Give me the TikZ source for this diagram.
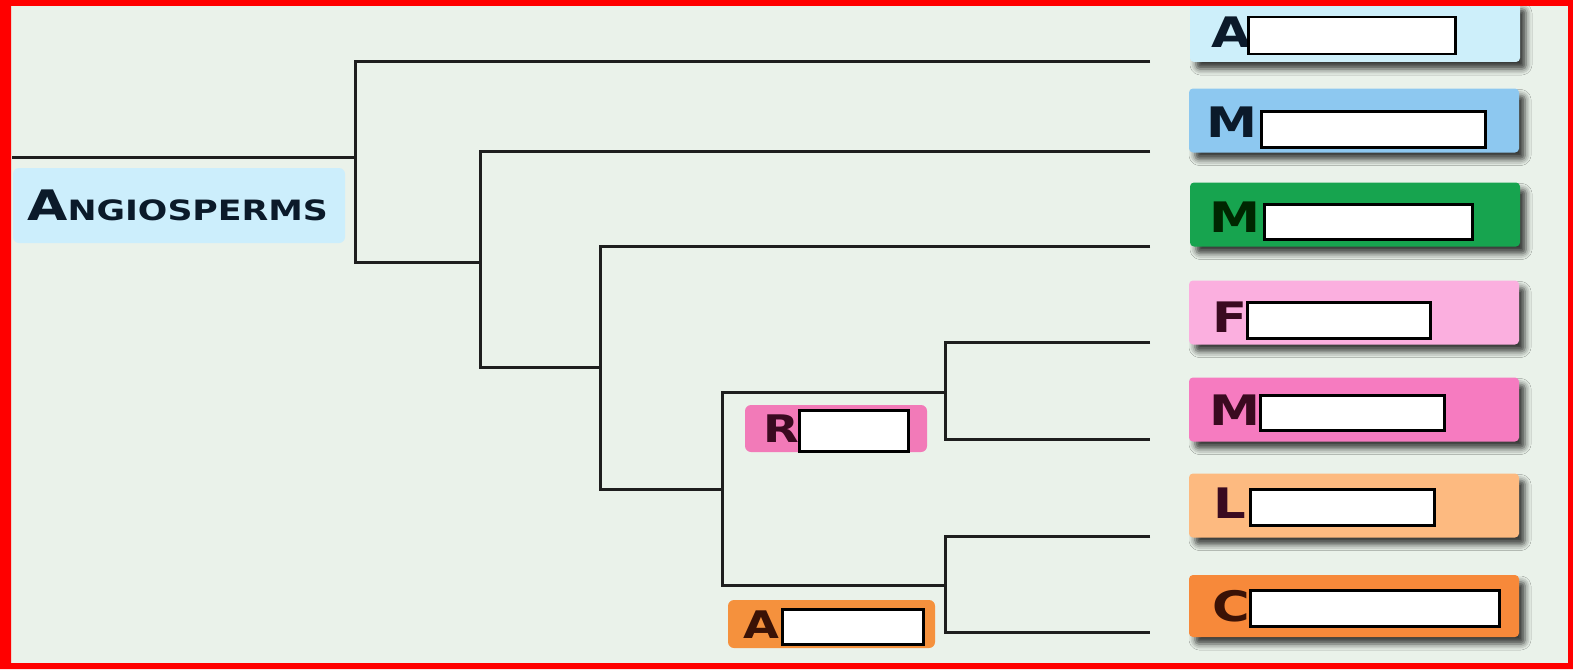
\documentclass[tikz,border=0pt]{standalone}
\usepackage{fontspec}
\setmainfont{DejaVu Sans}
\usetikzlibrary{shadows.blur}
\definecolor{bgc}{HTML}{EAF2EA}
\definecolor{ink}{HTML}{0B1A2A}
\definecolor{inkp}{HTML}{3A0A20}
\definecolor{inko}{HTML}{3A1206}
\definecolor{linec}{HTML}{1E1E1E}
\definecolor{cA}{HTML}{CDEFFA}
\definecolor{cMb}{HTML}{8DC8F0}
\definecolor{cMg}{HTML}{17A44F}
\definecolor{cF}{HTML}{FBAFDF}
\definecolor{cMp}{HTML}{F67BC0}
\definecolor{cL}{HTML}{FDBA80}
\definecolor{cC}{HTML}{F7893A}
\definecolor{cR}{HTML}{F27AB8}
\definecolor{cAs}{HTML}{F5913D}
\definecolor{cAng}{HTML}{CCEEFC}
\newcommand\widelet[1]{\scalebox{1.22}[1]{#1}}
\begin{document}
\begin{tikzpicture}[x=1pt,y=-1pt,
  leafbox/.style={rectangle, rounded corners=4pt, minimum width=330pt, minimum height=64pt, inner sep=0pt,
    blur shadow={shadow xshift=6pt, shadow yshift=-7pt, shadow blur radius=6pt, shadow opacity=75}},
  softbox/.style={rectangle, rounded corners=6pt, inner sep=0pt},
  redact/.style={draw=black, line width=2.5pt, fill=white, inner sep=0pt, anchor=north west},
  lettr/.style={anchor=base west, inner sep=0pt, font=\fontsize{42}{42}\selectfont\bfseries, text=ink},
  slettr/.style={anchor=base west, inner sep=0pt, font=\fontsize{38}{38}\selectfont\bfseries},
  branch/.style={draw=linec, line width=3pt}]
\useasboundingbox (0,0) rectangle (1573,669);
\fill[bgc] (0,0) rectangle (1573,669);

% Angiosperms label
\node[softbox, fill=cAng, minimum width=332pt, minimum height=75pt] (angbox) at (179,205.5) {};
\node[anchor=base west, inner sep=0pt, text=ink] (angtext) at (27,220)
  {\scalebox{1.24}[1]{\bfseries\fontsize{42}{42}\selectfont A\fontsize{28}{28}\selectfont NGIOSPERMS}};

% leaf boxes
\node[leafbox, fill=cA, minimum height=60pt] (bA) at (1355,32) {};
\node[leafbox, fill=cMb] (bMb) at (1354,120.5) {};
\node[leafbox, fill=cMg] (bMg) at (1355,214.5) {};
\node[leafbox, fill=cF] (bF) at (1354,312.5) {};
\node[leafbox, fill=cMp] (bMp) at (1354,409.5) {};
\node[leafbox, fill=cL] (bL) at (1354,505.5) {};
\node[leafbox, fill=cC, minimum height=62pt] (bC) at (1354,606) {};

\node[lettr] (lA) at (1211,48) {\widelet{A}};
\node[lettr] (lMb) at (1206,137) {\widelet{M}};
\node[lettr, text=black!85!green] (lMg) at (1209,232) {\widelet{M}};
\node[lettr, text=inkp] (lF) at (1212,332) {\widelet{F}};
\node[lettr, text=inkp] (lMp) at (1209,425) {\widelet{M}};
\node[lettr, text=inkp] (lL) at (1213,518) {\widelet{L}};
\node[lettr, text=inko] (lC) at (1212,621) {\widelet{C}};

\node[redact, minimum width=207pt, minimum height=37pt] (wA) at (1247,16) {};
\node[redact, minimum width=224pt, minimum height=36pt] (wMb) at (1260,110) {};
\node[redact, minimum width=208pt, minimum height=35pt] (wMg) at (1263,203) {};
\node[redact, minimum width=183pt, minimum height=36pt] (wF) at (1246,301) {};
\node[redact, minimum width=184pt, minimum height=35pt] (wMp) at (1259,394) {};
\node[redact, minimum width=184pt, minimum height=36pt] (wL) at (1249,488) {};
\node[redact, minimum width=249pt, minimum height=36pt] (wC) at (1249,589) {};

% inner clade labels
\node[softbox, fill=cR, minimum width=182pt, minimum height=47pt] (bR) at (836,428.5) {};
\node[slettr, text=inkp] (lR) at (763,442) {\widelet{R}};
\node[redact, minimum width=109pt, minimum height=41pt] (wR) at (798,409) {};
\node[softbox, fill=cAs, minimum width=207pt, minimum height=48pt] (bAs) at (831.5,624) {};
\node[slettr, text=inko] (lAs) at (743,638) {\widelet{A}};
\node[redact, minimum width=141pt, minimum height=35pt] (wAs) at (781,608) {};

% tree coordinates
\coordinate (r0) at (12,157);
\coordinate (j1) at (355,157);
\coordinate (j2) at (480,262);
\coordinate (j3) at (600,367);
\coordinate (j4) at (722,489);
\coordinate (j5) at (945,392);
\coordinate (j6) at (945,585);
\coordinate (tA) at (1150,62);
\coordinate (tMb) at (1150,151);
\coordinate (tMg) at (1150,246);
\coordinate (tF) at (1150,342);
\coordinate (tMp) at (1150,439);
\coordinate (tL) at (1150,536);
\coordinate (tC) at (1150,632);

\draw[branch] (r0) -- (j1);
\draw[branch] (tA) -| (j1) |- (j2);
\draw[branch] (tMb) -| (j2) |- (j3);
\draw[branch] (tMg) -| (j3) |- (j4);
\draw[branch] (j5) -| (j4) |- (j6);
\draw[branch] (tF) -| (j5) |- (tMp);
\draw[branch] (tL) -| (j6) |- (tC);

% red frame
\fill[red, even odd rule] (0,0) rectangle (1573,669) (11,6) rectangle (1568,663);
\end{tikzpicture}
\end{document}
